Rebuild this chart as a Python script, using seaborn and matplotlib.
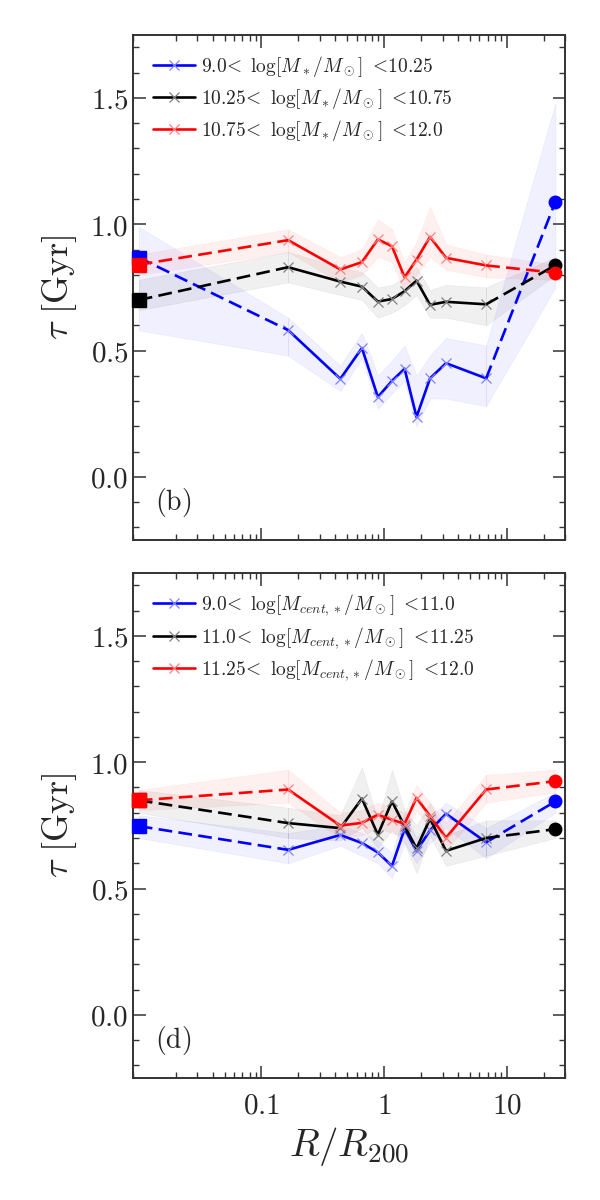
import numpy as np
import seaborn as sns
import matplotlib
matplotlib.use("Agg")
import matplotlib.pyplot as plt
from matplotlib.ticker import FixedLocator, LogLocator, MultipleLocator, FuncFormatter, NullFormatter

# radios de los bines (R/R200), punto interior y exterior
r_bins = [0.165, 0.44, 0.66, 0.89, 1.16, 1.47, 1.84, 2.37, 3.2, 6.8]
r_in = 0.01
r_out = 25.0

# panel (b): bines de masa estelar
lab_b = [r"$9.0\!<\ \log[M_*/M_\odot]\ <\!10.25$",
         r"$10.25\!<\ \log[M_*/M_\odot]\ <\!10.75$",
         r"$10.75\!<\ \log[M_*/M_\odot]\ <\!12.0$"]
tau_b_low = [0.581, 0.388, 0.51, 0.316, 0.38, 0.428, 0.237, 0.39, 0.45, 0.39]
tau_b_mid = [0.83, 0.773, 0.753, 0.694, 0.704, 0.735, 0.777, 0.681, 0.693, 0.683]
tau_b_high = [0.937, 0.821, 0.85, 0.94, 0.913, 0.79, 0.86, 0.95, 0.867, 0.837]
ends_b_low = [0.868, 1.09]
ends_b_mid = [0.70, 0.838]
ends_b_high = [0.84, 0.808]
# bandas (incluye r_in y r_out)
lo_b_low = [0.58, 0.48, 0.34, 0.47, 0.27, 0.33, 0.38, 0.20, 0.31, 0.31, 0.28, 0.75]
hi_b_low = [0.99, 0.63, 0.44, 0.57, 0.40, 0.46, 0.52, 0.40, 0.48, 0.55, 0.52, 1.48]
lo_b_mid = [0.66, 0.77, 0.72, 0.70, 0.63, 0.65, 0.68, 0.72, 0.63, 0.63, 0.60, 0.80]
hi_b_mid = [0.78, 0.89, 0.83, 0.81, 0.75, 0.76, 0.79, 0.83, 0.74, 0.76, 0.75, 0.87]
lo_b_high = [0.80, 0.89, 0.77, 0.80, 0.87, 0.85, 0.73, 0.80, 0.87, 0.82, 0.79, 0.78]
hi_b_high = [0.88, 0.98, 0.87, 0.90, 1.02, 0.98, 0.85, 0.93, 1.07, 0.92, 0.88, 0.84]

# panel (d): bines de masa de la central
lab_d = [r"$9.0\!<\ \log[M_{cent,*}/M_\odot]\ <\!11.0$",
         r"$11.0\!<\ \log[M_{cent,*}/M_\odot]\ <\!11.25$",
         r"$11.25\!<\ \log[M_{cent,*}/M_\odot]\ <\!12.0$"]
tau_d_low = [0.653, 0.712, 0.68, 0.643, 0.589, 0.736, 0.649, 0.73, 0.796, 0.683]
tau_d_mid = [0.759, 0.739, 0.856, 0.713, 0.845, 0.747, 0.659, 0.776, 0.649, 0.70]
tau_d_high = [0.892, 0.749, 0.76, 0.792, 0.772, 0.756, 0.859, 0.787, 0.701, 0.892]
ends_d_low = [0.747, 0.845]
ends_d_mid = [0.849, 0.735]
ends_d_high = [0.849, 0.925]
lo_d_low = [0.70, 0.60, 0.67, 0.63, 0.60, 0.54, 0.68, 0.60, 0.68, 0.74, 0.62, 0.80]
hi_d_low = [0.79, 0.72, 0.75, 0.72, 0.69, 0.64, 0.80, 0.70, 0.78, 0.84, 0.74, 0.88]
lo_d_mid = [0.80, 0.70, 0.69, 0.74, 0.66, 0.73, 0.68, 0.56, 0.71, 0.59, 0.63, 0.70]
hi_d_mid = [0.89, 0.82, 0.79, 0.98, 0.77, 0.97, 0.81, 0.75, 0.84, 0.71, 0.77, 0.77]
lo_d_high = [0.81, 0.84, 0.70, 0.71, 0.74, 0.72, 0.71, 0.81, 0.74, 0.65, 0.84, 0.88]
hi_d_high = [0.89, 0.97, 0.80, 0.81, 0.84, 0.82, 0.80, 0.91, 0.84, 0.76, 0.95, 0.97]

colores = ["blue", "black", "red"]
claros = [(0.5, 0.5, 1.0), (0.5, 0.5, 0.5), (1.0, 0.5, 0.5)]
guiones = (5.2, 2.4)

sns.set_theme(style="ticks")
plt.rcParams["font.family"] = ["DejaVu Serif"]
plt.rcParams["mathtext.fontset"] = "cm"


def panel(ax, series, ends, lows, highs, labels, letra, xlabels):
    r_all = [r_in] + r_bins + [r_out]
    for k in range(3):
        c = colores[k]
        lo = np.array(lows[k])
        hi = np.array(highs[k])
        # bandas en tres tramos
        for a, b in [(0, 2), (1, 11), (10, 12)]:
            ax.fill_between(r_all[a:b], lo[a:b], hi[a:b], color=c, alpha=0.06, lw=0.5)
        # tramo continuo
        sns.lineplot(x=r_bins, y=series[k], ax=ax, color=c, lw=1.9, marker="x",
                     markersize=6.5, markeredgecolor=claros[k], mew=0.9,
                     estimator=None, sort=False, label=labels[k], zorder=3)
        # tramos punteados hacia los extremos
        ax.plot([r_in, r_bins[0]], [ends[k][0], series[k][0]], ls="--", dashes=guiones,
                color=c, lw=1.9, zorder=3)
        ax.plot([r_bins[-1], r_out], [series[k][-1], ends[k][1]], ls="--", dashes=guiones,
                color=c, lw=1.9, zorder=3)
        ax.plot(r_in, ends[k][0], "s", color=c, ms=9.5, zorder=4, clip_on=False)
        ax.plot(r_out, ends[k][1], "o", color=c, ms=9, zorder=4, clip_on=False)

    ax.set_xscale("log")
    ax.set_xlim(0.009, 30)
    ax.set_ylim(-0.25, 1.75)
    ax.xaxis.set_major_locator(FixedLocator([0.1, 1, 10]))
    ax.xaxis.set_minor_locator(LogLocator(base=10, subs=np.arange(2, 10)))
    ax.xaxis.set_minor_formatter(NullFormatter())
    ax.yaxis.set_major_locator(MultipleLocator(0.5))
    ax.yaxis.set_minor_locator(MultipleLocator(0.1))
    ax.yaxis.set_major_formatter(FuncFormatter(lambda v, p: f"${v:.1f}$"))
    if xlabels:
        ax.xaxis.set_major_formatter(FuncFormatter(lambda v, p: f"${v:g}$"))
        ax.set_xlabel(r"$R/R_{200}$", fontsize=28, labelpad=4)
    else:
        ax.xaxis.set_major_formatter(NullFormatter())
        ax.set_xlabel("")
    ax.set_ylabel(r"$\tau\ [\mathrm{Gyr}]$", fontsize=26, labelpad=8)
    ax.tick_params(which="both", direction="in", top=True, right=True, labelsize=21,
                   color="#333333")
    ax.tick_params(which="major", length=9, width=1.1)
    ax.tick_params(which="minor", length=4.5, width=1.0)
    ax.tick_params(axis="x", pad=10)
    for s in ax.spines.values():
        s.set_linewidth(1.4)
        s.set_color("#333333")
    ax.text(0.05, 0.06, letra, transform=ax.transAxes, fontsize=20)
    ax.legend(loc="upper left", frameon=False, fontsize=14, handlelength=2.2,
              handletextpad=0.3, labelspacing=0.35, borderaxespad=0.6)


fig = plt.figure(figsize=(6, 12), dpi=100)
ax1 = fig.add_axes([0.222, 0.55, 0.72, 0.421])
ax2 = fig.add_axes([0.222, 0.1017, 0.72, 0.421])

panel(ax1, [tau_b_low, tau_b_mid, tau_b_high], [ends_b_low, ends_b_mid, ends_b_high],
      [lo_b_low, lo_b_mid, lo_b_high], [hi_b_low, hi_b_mid, hi_b_high], lab_b, r"$\mathrm{(b)}$", False)
panel(ax2, [tau_d_low, tau_d_mid, tau_d_high], [ends_d_low, ends_d_mid, ends_d_high],
      [lo_d_low, lo_d_mid, lo_d_high], [hi_d_low, hi_d_mid, hi_d_high], lab_d, r"$\mathrm{(d)}$", True)

fig.savefig("out.png", dpi=100)
